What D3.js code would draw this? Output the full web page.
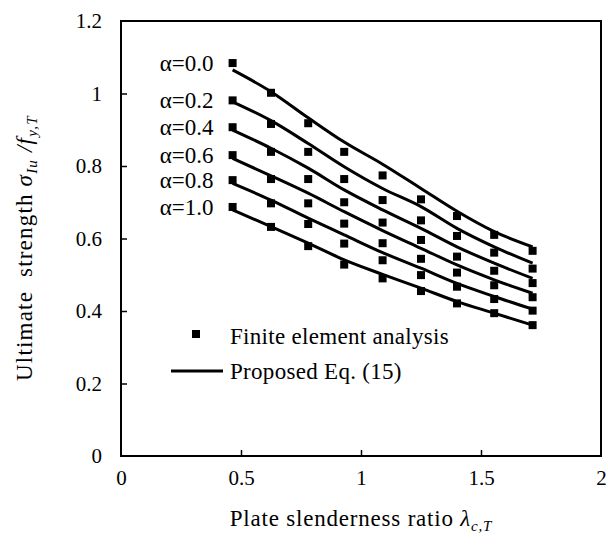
<!DOCTYPE html>
<html>
<head>
<meta charset="utf-8">
<script src="https://cdn.jsdelivr.net/npm/d3@7"></script>
<style>
  body { margin: 0; background: #fff; }
  svg text { font-family: "Liberation Serif", "DejaVu Serif", serif; fill: #000; white-space: pre; }
</style>
</head>
<body>
<div id="chart"></div>
<script>
// plate slenderness ratio at each analysed point
var lambdas = [0.465, 0.625, 0.78, 0.93, 1.09, 1.25, 1.40, 1.555, 1.715];
var alphaLabels = ["α=0.0", "α=0.2", "α=0.4", "α=0.6", "α=0.8", "α=1.0"];

// Finite element analysis results, one row per alpha
var feaValues = [
  [1.084, 1.002, 0.918, 0.839, 0.774, 0.708, 0.662, 0.610, 0.566],
  [0.981, 0.916, 0.839, 0.764, 0.706, 0.650, 0.607, 0.561, 0.517],
  [0.907, 0.839, 0.764, 0.700, 0.644, 0.596, 0.550, 0.511, 0.477],
  [0.830, 0.764, 0.697, 0.641, 0.587, 0.544, 0.506, 0.471, 0.438],
  [0.761, 0.697, 0.640, 0.586, 0.540, 0.499, 0.467, 0.433, 0.401],
  [0.687, 0.632, 0.579, 0.528, 0.490, 0.455, 0.421, 0.394, 0.361]
];

// Proposed Eq. (15), one row per alpha
var eqValues = [
  [1.065, 1.005, 0.933, 0.866, 0.805, 0.738, 0.675, 0.619, 0.577],
  [0.977, 0.925, 0.862, 0.798, 0.738, 0.688, 0.628, 0.577, 0.532],
  [0.899, 0.849, 0.794, 0.734, 0.679, 0.628, 0.577, 0.532, 0.490],
  [0.821, 0.773, 0.725, 0.674, 0.622, 0.573, 0.527, 0.486, 0.449],
  [0.752, 0.706, 0.656, 0.610, 0.561, 0.518, 0.476, 0.440, 0.405],
  [0.679, 0.633, 0.587, 0.541, 0.501, 0.463, 0.426, 0.394, 0.361]
];

var xTicks = [0, 0.5, 1, 1.5, 2];
var yTicks = [0, 0.2, 0.4, 0.6, 0.8, 1, 1.2];
var legendLabels = ["Finite element analysis", "Proposed Eq. (15)"];

const width = 608, height = 545;
const margin = {left: 121, right: 7, top: 21, bottom: 89};

const svg = d3.select('#chart').append('svg')
  .attr('width', width)
  .attr('height', height);

const x = d3.scaleLinear().domain([0, 2]).range([margin.left, width - margin.right]);
const y = d3.scaleLinear().domain([0, 1.2]).range([height - margin.bottom, margin.top]);

// Axes (ticks point inward)
const xAxis = svg.append('g')
  .attr('transform', `translate(0,${y(0)})`)
  .call(d3.axisBottom(x).tickValues(xTicks).tickSize(-6).tickPadding(14)
    .tickFormat(d => d3.format('~g')(d)));
const yAxis = svg.append('g')
  .attr('transform', `translate(${x(0)},0)`)
  .call(d3.axisLeft(y).tickValues(yTicks).tickSize(-6).tickPadding(19)
    .tickFormat(d => d3.format('~g')(d)));

[xAxis, yAxis].forEach(a => {
  a.select('.domain').remove();
  a.selectAll('.tick line').attr('stroke', '#000').attr('stroke-width', 1.5);
  a.selectAll('.tick text').style('font-size', '21px').attr('fill', '#000');
});
xAxis.selectAll('.tick').filter(d => d == 0 || d == 2).select('line').remove();
yAxis.selectAll('.tick').filter(d => d == 0 || d == 1.2).select('line').remove();

// Frame
svg.append('rect')
  .attr('x', x(0)).attr('y', y(1.2))
  .attr('width', x(2) - x(0)).attr('height', y(0) - y(1.2))
  .attr('fill', 'none').attr('stroke', '#000').attr('stroke-width', 2);

// Equation curves
const line = d3.line()
  .x((d, i) => x(lambdas[i]))
  .y(d => y(d))
  .curve(d3.curveMonotoneX);

eqValues.forEach(row => {
  svg.append('path')
    .attr('d', line(row))
    .attr('fill', 'none')
    .attr('stroke', '#000')
    .attr('stroke-width', 3);
});

// FEA markers
feaValues.forEach(row => {
  row.forEach((v, i) => {
    svg.append('rect')
      .attr('x', x(lambdas[i]) - 4)
      .attr('y', y(v) - 4)
      .attr('width', 8).attr('height', 8)
      .attr('fill', '#000');
  });
});

// Alpha labels next to first markers
alphaLabels.forEach((t, i) => {
  svg.append('text')
    .attr('x', x(lambdas[0]) - 19)
    .attr('y', y(feaValues[i][0]))
    .attr('dy', '0.35em')
    .attr('text-anchor', 'end')
    .style('font-size', '23px')
    .text(t);
});

// Legend
svg.append('rect')
  .attr('x', 192).attr('y', 330)
  .attr('width', 8).attr('height', 8)
  .attr('fill', '#000');
svg.append('line')
  .attr('x1', 171).attr('x2', 223)
  .attr('y1', 371).attr('y2', 371)
  .attr('stroke', '#000').attr('stroke-width', 3);
legendLabels.forEach((t, i) => {
  svg.append('text')
    .attr('x', 230)
    .attr('y', 336 + i * 35)
    .attr('dy', '0.35em')
    .style('font-size', '23px')
    .style('letter-spacing', '0.3px')
    .text(t);
});

// X axis title
const xt = svg.append('text')
  .attr('x', x(1))
  .attr('y', 526)
  .attr('text-anchor', 'middle')
  .style('font-size', '23px')
  .style('letter-spacing', '0.8px');
xt.append('tspan').text('Plate slenderness ratio ');
xt.append('tspan').style('font-style', 'italic').text('λ');
xt.append('tspan').style('font-style', 'italic').style('font-size', '15px')
  .attr('dy', 5).text('c,T');

// Y axis title
const yt = svg.append('text')
  .attr('transform', `translate(32,${y(0.59) + 6}) rotate(-90)`)
  .attr('text-anchor', 'middle')
  .style('font-size', '23px')
  .style('letter-spacing', '1.2px');
yt.append('tspan').text('Ultimate  strength ');
yt.append('tspan').style('font-style', 'italic').text('σ');
yt.append('tspan').style('font-style', 'italic').style('font-size', '15px')
  .attr('dy', 5).text('Iu');
yt.append('tspan').style('font-style', 'italic')
  .attr('dy', -5).text(' /f');
yt.append('tspan').style('font-style', 'italic').style('font-size', '15px')
  .attr('dy', 5).text('y,T');
</script>
</body>
</html>
